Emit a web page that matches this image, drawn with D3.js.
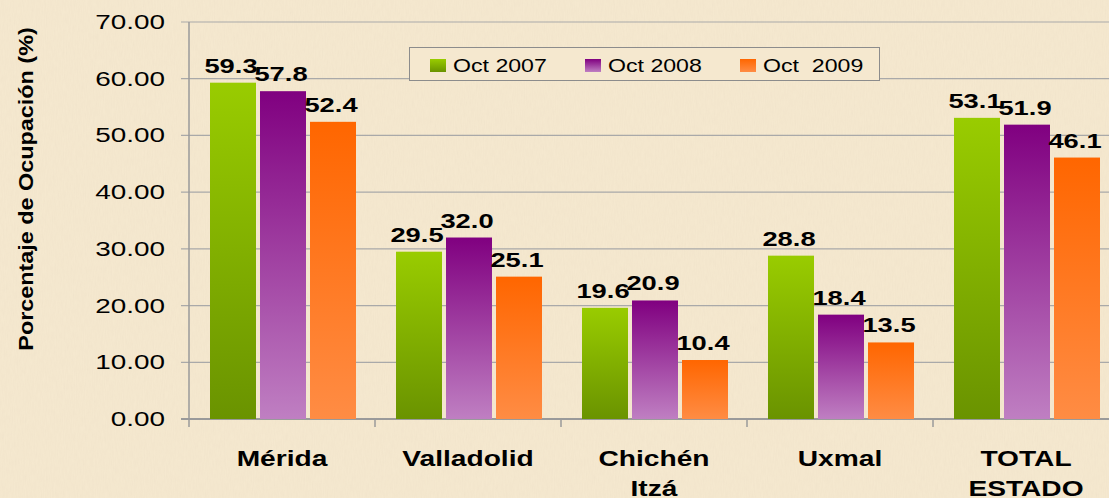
<!DOCTYPE html>
<html><head><meta charset="utf-8">
<script src="https://cdn.jsdelivr.net/npm/d3@7/dist/d3.min.js"></script>
<style>html,body{margin:0;padding:0;background:#f4e6cd;}svg{display:block;}</style>
</head><body>
<script>
const categories = [["Mérida"], ["Valladolid"], ["Chichén", "Itzá"], ["Uxmal"], ["TOTAL", "ESTADO"]];
const seriesNames = ["Oct 2007", "Oct 2008", "Oct  2009"];
const oct2007 = [59.3, 29.5, 19.6, 28.8, 53.1];
const oct2008 = [57.8, 32.0, 20.9, 18.4, 51.9];
const oct2009 = [52.4, 25.1, 10.4, 13.5, 46.1];
const yTicks = [0, 10, 20, 30, 40, 50, 60, 70];
const yTitle = "Porcentaje de Ocupación (%)";

const W = 1109, H = 498;
const series = [oct2007, oct2008, oct2009];
const grads = [["#99cc00", "#6a9300"], ["#800080", "#bf7fc2"], ["#ff6600", "#ff8c44"]];

const svg = d3.select("body").append("svg").attr("width", W).attr("height", H)
  .style("font-family", "Arial, 'Liberation Sans', sans-serif");

const defs = svg.append("defs");
const f = defs.append("filter").attr("id", "paper").attr("x", 0).attr("y", 0).attr("width", 1).attr("height", 1);
f.append("feTurbulence").attr("type", "fractalNoise").attr("baseFrequency", "0.9 0.12").attr("numOctaves", 2).attr("seed", 4).attr("result", "n");
f.append("feColorMatrix").attr("in", "n").attr("type", "matrix")
  .attr("values", "0 0 0 0 0.55  0 0 0 0 0.47  0 0 0 0 0.35  0 0 0 0.22 -0.05");
grads.forEach((g, i) => {
  const lg = defs.append("linearGradient").attr("id", "g" + i).attr("x1", 0).attr("y1", 0).attr("x2", 0).attr("y2", 1);
  lg.append("stop").attr("offset", "0%").attr("stop-color", g[0]);
  lg.append("stop").attr("offset", "100%").attr("stop-color", g[1]);
});

svg.append("rect").attr("width", W).attr("height", H).attr("fill", "#f5e8cf");
svg.append("rect").attr("width", W).attr("height", H).attr("filter", "url(#paper)").attr("opacity", 0.45);

const y = d3.scaleLinear().domain([0, 70]).range([419, 22]);
const x0 = d3.scaleBand().domain(d3.range(categories.length)).range([189, 1119]).padding(0);
const x1 = d3.scaleBand().domain(d3.range(series.length)).range([21, x0.bandwidth() - 19]).paddingInner(0.08);

function stext(g, x, yy, str, size, sx, anchor, weight) {
  return g.append("text").attr("transform", `translate(${x},${yy}) scale(${sx},1)`)
    .attr("text-anchor", anchor).attr("font-size", size).attr("font-weight", weight || "normal")
    .attr("fill", "#000").text(str);
}

// grid
const grid = svg.append("g");
yTicks.forEach(t => {
  grid.append("line").attr("x1", 181).attr("x2", W).attr("y1", y(t)).attr("y2", y(t))
    .attr("stroke", t === 0 ? "#9a9a9a" : "#a9a9a9").attr("stroke-width", t === 0 ? 2 : 1.2);
  stext(grid, 165, y(t) + 7, d3.format(".2f")(t), 19.5, 1.43, "end");
});
grid.append("line").attr("x1", 189).attr("x2", 189).attr("y1", y(70)).attr("y2", y(0)).attr("stroke", "#9a9a9a").attr("stroke-width", 1.5);
d3.range(categories.length + 1).forEach(i => {
  const xx = 189 + i * x0.step();
  grid.append("line").attr("x1", xx).attr("x2", xx).attr("y1", y(0)).attr("y2", y(0) + 8).attr("stroke", "#9a9a9a").attr("stroke-width", 1.5);
});

// bars
const bars = svg.append("g");
categories.forEach((c, ci) => {
  series.forEach((s, si) => {
    const bx = x0(ci) + x1(si);
    bars.append("rect").attr("x", bx).attr("y", y(s[ci])).attr("width", x1.bandwidth())
      .attr("height", y(0) - y(s[ci])).attr("fill", `url(#g${si})`);
    stext(bars, bx + x1.bandwidth() / 2 - 2, y(s[ci]) - 10, d3.format(".1f")(s[ci]), 21, 1.3, "middle", "bold");
  });
  c.forEach((line, li) => {
    stext(svg, x0(ci) + x0.bandwidth() / 2, 466 + li * 30, line, 22, 1.28, "middle", "bold");
  });
});

// y title
svg.append("text").attr("transform", `translate(33,189) rotate(-90) scale(1.2,1)`)
  .attr("text-anchor", "middle").attr("font-size", 19.5).attr("font-weight", "bold")
  .text(yTitle);

// legend
const lg = svg.append("g");
lg.append("rect").attr("x", 409.5).attr("y", 47.5).attr("width", 470).attr("height", 33)
  .attr("fill", "#f5e8cf").attr("stroke", "#8c8c8c").attr("stroke-width", 1);
const legX = [430, 585, 740];
seriesNames.forEach((n, i) => {
  lg.append("rect").attr("x", legX[i]).attr("y", 59).attr("width", 16).attr("height", 13).attr("fill", `url(#g${i})`);
  stext(lg, legX[i] + 23, 72, n, 18.5, 1.25, "start").attr("xml:space", "preserve").style("white-space", "pre");
});
</script>
</body></html>
